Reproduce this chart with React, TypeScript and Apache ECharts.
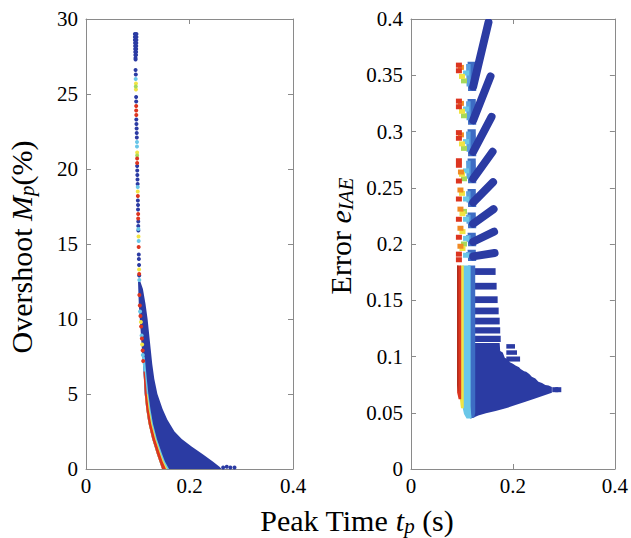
import { useEffect, useRef } from 'react';
import * as echarts from 'echarts';

const FONT = 'Liberation Serif';
const GRAY = '#8a8a8a';
const C_BLUE = '#2b3ba3';
const C_MID = '#3d6cc4';
const C_LIGHT = '#5a9fe0';
const C_CYAN = '#69c6e8';
const C_GREEN = '#a6d95c';
const C_YELLOW = '#f1e444';
const C_ORANGE = '#f08a24';
const C_RED = '#dc3520';
const C_DRED = '#a82818';

// ---------- axes ----------
const xTickStep = 0.2;
const xRange = [0, 0.4];
const leftYRange = [0, 30];
const leftYStep = 5;
const rightYRange = [0, 0.4];
const rightYStep = 0.05;

// ---------- left panel: (peak time tp, overshoot Mp) ----------
const leftStripBlue: number[][] = [
  [0.0945, 29.0], [0.0975, 29.0], [0.0945, 28.8], [0.0975, 28.8], [0.0945, 28.6], [0.0974, 28.6],
  [0.0948, 28.4], [0.0972, 28.4], [0.0949, 28.2], [0.0971, 28.2], [0.095, 28.0], [0.097, 28.0],
  [0.0952, 27.8], [0.0968, 27.8], [0.0954, 27.6], [0.0966, 27.6], [0.0956, 27.4], [0.0958, 27.3],
  [0.0958, 26.6], [0.0962, 26.3], [0.0968, 24.8], [0.097, 24.5], [0.0972, 23.3], [0.0975, 23.0],
  [0.0978, 22.7], [0.098, 22.4], [0.0982, 22.1], [0.0988, 20.2], [0.099, 19.9], [0.0992, 19.6],
  [0.0995, 19.3], [0.0998, 19.0], [0.1002, 17.9], [0.1005, 17.6], [0.1005, 17.3], [0.101, 16.5],
  [0.101, 16.2], [0.1012, 15.9], [0.102, 14.3], [0.1022, 14.0], [0.1025, 13.6], [0.1028, 12.9],
];
const leftStripCyan: number[][] = [
  [0.096, 26.0], [0.0985, 21.8], [0.0985, 21.5], [0.1, 18.8], [0.1012, 16.0], [0.1018, 15.2], [0.103, 12.6],
  [0.1045, 10.5], [0.1075, 8.9], [0.1098, 7.6],
];
const leftStripYellow: number[][] = [
  [0.0965, 25.7], [0.0965, 25.3], [0.0988, 21.1], [0.1, 18.5], [0.1015, 15.5], [0.1025, 13.3],
  [0.106, 9.8], [0.1085, 8.3],
];
const leftStripGreen: number[][] = [[0.0962, 25.5], [0.0988, 20.9]];
const leftStripRed: number[][] = [
  [0.097, 24.2], [0.097, 23.9], [0.0972, 23.6], [0.0988, 20.7], [0.0988, 20.4], [0.1002, 18.2],
  [0.1008, 17.0], [0.1008, 16.7], [0.1018, 14.8], [0.1028, 13.0],
  [0.1032, 11.6], [0.104, 10.9], [0.1052, 10.2], [0.1065, 9.5], [0.108, 8.7], [0.1095, 7.9], [0.1105, 7.2],
];
const leftTail: number[][] = [[0.265, 0.1], [0.272, 0.15], [0.279, 0.1], [0.287, 0.1]];

// dense front bands: rows [Mp, tp left, tp right]
const leftBlueBand: number[][] = [
  [12.5, 0.1005, 0.105], [12, 0.101, 0.11], [11, 0.102, 0.115], [10, 0.104, 0.119], [9, 0.106, 0.122],
  [8, 0.108, 0.125], [7, 0.110, 0.128], [6, 0.112, 0.132], [5, 0.1135, 0.138], [4, 0.1165, 0.148],
  [3.3, 0.1195, 0.157], [2.5, 0.1245, 0.171], [2, 0.128, 0.185], [1.5, 0.1325, 0.204], [1, 0.137, 0.225],
  [0.5, 0.142, 0.245], [0.15, 0.1455, 0.258], [0, 0.147, 0.262],
];
const leftCyanBand: number[][] = [
  [7.5, 0.109, 0.1135], [6, 0.112, 0.1175], [5, 0.1135, 0.1205], [4, 0.1165, 0.1245], [3, 0.121, 0.1295],
  [2, 0.128, 0.137], [1, 0.137, 0.147], [0.5, 0.142, 0.1525], [0, 0.147, 0.1605],
];
const leftYellowBand: number[][] = [
  [5, 0.1135, 0.119], [4, 0.1165, 0.1225], [3, 0.121, 0.1275], [2, 0.128, 0.135], [1, 0.137, 0.1445],
  [0.5, 0.142, 0.150], [0, 0.147, 0.157],
];
const leftRedBand: number[][] = [
  [6.5, 0.111, 0.1135], [5, 0.1135, 0.1175], [4, 0.1165, 0.121], [3, 0.121, 0.126], [2, 0.128, 0.1335],
  [1, 0.137, 0.143], [0.5, 0.142, 0.148], [0, 0.147, 0.1545],
];

// ---------- right panel: (peak time tp, error eIAE) ----------
const rightDenseOutline: number[][] = [
  [0.113, 0.112], [0.174, 0.112], [0.175, 0.105], [0.180, 0.1035], [0.184, 0.099], [0.19, 0.0975],
  [0.194, 0.095], [0.2, 0.0935], [0.205, 0.092], [0.212, 0.0905], [0.215, 0.089], [0.222, 0.087],
  [0.226, 0.0865], [0.232, 0.0845], [0.237, 0.082], [0.244, 0.0805], [0.25, 0.0776], [0.257, 0.0765],
  [0.2635, 0.0747], [0.27, 0.0742], [0.2764, 0.073], [0.2764, 0.0678], [0.2635, 0.0658], [0.245, 0.063],
  [0.2246, 0.0598], [0.205, 0.0568], [0.186, 0.054], [0.166, 0.0515], [0.147, 0.0495], [0.132, 0.0475],
  [0.122, 0.0455], [0.117, 0.0448], [0.113, 0.046],
];
// horizontal stripes: [e bottom, e top, tp right]
const rightStripes: number[][] = [
  [0.113, 0.1185, 0.176], [0.1205, 0.126, 0.175], [0.1285, 0.1345, 0.174], [0.1375, 0.1435, 0.172],
  [0.1475, 0.1535, 0.170], [0.1595, 0.1655, 0.168], [0.1725, 0.1785, 0.166],
];
// detached blocks: [tp0, tp1, e0, e1]
const rightBlocks: number[][] = [
  [0.187, 0.214, 0.0955, 0.1], [0.187, 0.208, 0.1015, 0.1055], [0.187, 0.204, 0.107, 0.111],
];
const rightTail: number[][] = [[0.283, 0.0705], [0.289, 0.0705]];
// continuous left column bands: rows [e, tp left, tp right]
const rightColMid: number[][] = [[0.181, 0.112, 0.126], [0.05, 0.112, 0.126], [0.0455, 0.114, 0.124]];
const rightColCyan: number[][] = [[0.181, 0.1005, 0.117], [0.056, 0.1005, 0.117], [0.049, 0.104, 0.118], [0.0448, 0.109, 0.119]];
const rightColYellow: number[][] = [[0.181, 0.096, 0.1035], [0.062, 0.096, 0.1035], [0.054, 0.098, 0.1035]];
const rightColRed: number[][] = [[0.181, 0.0905, 0.0985], [0.068, 0.0905, 0.0985], [0.062, 0.0935, 0.0985]];
const rightColDarkRed: number[][] = [[0.181, 0.0905, 0.093], [0.075, 0.0905, 0.093], [0.069, 0.092, 0.093]];
// chevrons
const chevronBase = [0.336, 0.306, 0.278, 0.254, 0.233, 0.214, 0.198, 0.185];
const chevronTop = [0.362, 0.329, 0.302, 0.276, 0.249, 0.228, 0.210, 0.195];
const chevronTipX = [0.152, 0.156, 0.158, 0.160, 0.161, 0.162, 0.163, 0.164];
const chevronTipY = [0.397, 0.349, 0.313, 0.282, 0.255, 0.231, 0.211, 0.192];
const chevronStartX = 0.122;
// discrete squares of the left column
const rightSqRed: number[][] = [
  [0.094, 0.359], [0.094, 0.354], [0.094, 0.327], [0.094, 0.322], [0.094, 0.299], [0.094, 0.294],
  [0.094, 0.274], [0.094, 0.27], [0.094, 0.256], [0.094, 0.24], [0.094, 0.222], [0.094, 0.206],
  [0.094, 0.191], [0.094, 0.186],
];
const rightSqOrange: number[][] = [
  [0.098, 0.357], [0.098, 0.325], [0.098, 0.297], [0.098, 0.264], [0.097, 0.248], [0.097, 0.231],
  [0.097, 0.214], [0.097, 0.198],
];
const rightSqYellow: number[][] = [
  [0.1, 0.349], [0.1, 0.318], [0.1, 0.289], [0.1, 0.262], [0.1, 0.245], [0.101, 0.227], [0.101, 0.211], [0.101, 0.196],
];
const rightSqGreen: number[][] = [[0.104, 0.345], [0.104, 0.314], [0.104, 0.285], [0.104, 0.258], [0.104, 0.229], [0.104, 0.2]];
const rightSqCyan: number[][] = [
  [0.108, 0.352], [0.108, 0.32], [0.108, 0.291], [0.108, 0.265], [0.108, 0.24], [0.108, 0.222], [0.108, 0.205], [0.108, 0.19],
];

// ---------- titles ----------
type Part = { text: string; italic?: boolean; sub?: boolean };
const leftTitle: Part[] = [{ text: 'Overshoot ' }, { text: 'M', italic: true }, { text: 'p', italic: true, sub: true }, { text: '(%)' }];
const rightTitle: Part[] = [{ text: 'Error ' }, { text: 'e', italic: true }, { text: 'IAE', italic: true, sub: true }];
const xTitle: Part[] = [{ text: 'Peak Time ' }, { text: 't', italic: true }, { text: 'p', italic: true, sub: true }, { text: ' (s)' }];

type Shape = { pts: number[][]; color: string };

function band(rows: number[][], color: string): Shape {
  const l = rows.map((r) => [r[1], r[0]]);
  const r = rows.slice().reverse().map((q) => [q[2], q[0]]);
  return { pts: l.concat(r), color };
}

function polySeries(shapes: Shape[], xi: number, yi: number) {
  return {
    type: 'custom',
    xAxisIndex: xi,
    yAxisIndex: yi,
    silent: true,
    clip: true,
    data: shapes.map((s, i) => [s.pts[0][0], s.pts[0][1], i]),
    renderItem: (params: any, api: any) => {
      const s = shapes[params.dataIndex];
      return { type: 'polygon', shape: { points: s.pts.map((p) => api.coord(p)) }, style: { fill: s.color } };
    },
  };
}

function scatter(data: number[][], color: string, xi: number, yi: number, symbol = 'circle', size: any = 5) {
  return { type: 'scatter', xAxisIndex: xi, yAxisIndex: yi, data, symbol, symbolSize: size, silent: true, itemStyle: { color, opacity: 1 } };
}

function mathText(parts: Part[], cx: number, cy: number, rotate: boolean, size: number) {
  const subSize = Math.round(size * 0.7);
  const ctx = document.createElement('canvas').getContext('2d');
  const widths = parts.map((p) => {
    const fs = p.sub ? subSize : size;
    if (!ctx) return p.text.length * fs * 0.5;
    ctx.font = `${p.italic ? 'italic ' : ''}${fs}px "${FONT}"`;
    return ctx.measureText(p.text).width;
  });
  const total = widths.reduce((a, b) => a + b, 0);
  let x = -total / 2;
  const children = parts.map((p, i) => {
    const fs = p.sub ? subSize : size;
    const el = {
      type: 'text',
      x,
      y: p.sub ? size * 0.2 : 0,
      style: {
        text: p.text,
        fontSize: fs,
        fontFamily: FONT,
        fontStyle: p.italic ? 'italic' : 'normal',
        fill: '#000',
        textAlign: 'left',
        textVerticalAlign: 'middle',
      },
    };
    x += widths[i];
    return el;
  });
  return { type: 'group', x: cx, y: cy, rotation: rotate ? Math.PI / 2 : 0, children };
}

const fmt = (v: number) => String(+v.toFixed(2));

function xAx(grid: number, pos: 'bottom' | 'top') {
  return {
    type: 'value', gridIndex: grid, position: pos, min: xRange[0], max: xRange[1], interval: xTickStep,
    axisLine: { show: true, onZero: false, lineStyle: { color: GRAY, width: 1 } },
    axisTick: { show: true, inside: true, length: 5, lineStyle: { color: GRAY } },
    axisLabel: { show: pos === 'bottom', fontSize: 21, fontFamily: FONT, color: '#000', margin: 6, formatter: fmt },
    splitLine: { show: false },
  };
}
function yAx(grid: number, pos: 'left' | 'right', range: number[], step: number) {
  return {
    type: 'value', gridIndex: grid, position: pos, min: range[0], max: range[1], interval: step,
    axisLine: { show: true, onZero: false, lineStyle: { color: GRAY, width: 1 } },
    axisTick: { show: true, inside: true, length: 5, lineStyle: { color: GRAY } },
    axisLabel: { show: pos === 'left', fontSize: 21, fontFamily: FONT, color: '#000', margin: 8, formatter: fmt },
    splitLine: { show: false },
  };
}

export default function App() {
  const ref = useRef<HTMLDivElement>(null);
  useEffect(() => {
    if (!ref.current) return;
    document.body.style.margin = '0';
    const chart = echarts.init(ref.current, undefined, { renderer: 'svg' });

    const leftShapes: Shape[] = [
      band(leftBlueBand, C_BLUE),
      band(leftCyanBand, C_CYAN),
      band(leftYellowBand, C_YELLOW),
      band(leftRedBand, C_RED),
    ];

    const rightShapes: Shape[] = [{ pts: rightDenseOutline, color: C_BLUE }];
    rightStripes.forEach((s) => {
      rightShapes.push({ pts: [[0.113, s[1]], [s[2], s[1]], [s[2], s[0]], [0.113, s[0]]], color: C_BLUE });
    });
    rightBlocks.forEach((b) => {
      rightShapes.push({ pts: [[b[0], b[3]], [b[1], b[3]], [b[1], b[2]], [b[0], b[2]]], color: C_BLUE });
    });
    chevronBase.forEach((b, i) => {
      const t = chevronTop[i];
      rightShapes.push({ pts: [[0.111, t], [0.127, t], [0.128, b], [0.112, b]], color: C_MID });
      rightShapes.push({ pts: [[0.108, t - 0.002], [0.117, t - 0.002], [0.117, b + 0.004], [0.109, b + 0.004]], color: C_LIGHT });
    });
    rightShapes.push(band(rightColMid, C_MID));
    rightShapes.push(band(rightColCyan, C_CYAN));
    rightShapes.push(band(rightColYellow, C_YELLOW));
    rightShapes.push(band(rightColRed, C_RED));
    rightShapes.push(band(rightColDarkRed, C_DRED));

    const armSeries = {
      type: 'custom',
      xAxisIndex: 2,
      yAxisIndex: 2,
      silent: true,
      clip: true,
      data: chevronBase.map((b, i) => [chevronTipX[i], chevronTipY[i], b]),
      renderItem: (params: any, api: any) => {
        const i = params.dataIndex;
        const a = api.coord([chevronStartX, chevronBase[i] + 0.004]);
        const c = api.coord([chevronTipX[i], chevronTipY[i]]);
        return {
          type: 'line',
          shape: { x1: a[0], y1: a[1], x2: c[0], y2: c[1] },
          style: { stroke: C_BLUE, lineWidth: 8, lineCap: 'round' },
        };
      },
    };

    const sq: any = [6, 5];
    chart.setOption({
      animation: false,
      grid: [
        { left: 86, top: 19, width: 207, height: 450 },
        { left: 411, top: 19, width: 206, height: 450 },
      ],
      xAxis: [xAx(0, 'bottom'), xAx(0, 'top'), xAx(1, 'bottom'), xAx(1, 'top')],
      yAxis: [
        yAx(0, 'left', leftYRange, leftYStep),
        yAx(0, 'right', leftYRange, leftYStep),
        yAx(1, 'left', rightYRange, rightYStep),
        yAx(1, 'right', rightYRange, rightYStep),
      ],
      series: [
        polySeries(leftShapes, 0, 0),
        scatter(leftStripBlue, C_BLUE, 0, 0, 'circle', 4),
        scatter(leftStripCyan, C_CYAN, 0, 0, 'circle', 4),
        scatter(leftStripYellow, C_YELLOW, 0, 0, 'circle', 4),
        scatter(leftStripGreen, C_GREEN, 0, 0, 'circle', 4),
        scatter(leftStripRed, C_RED, 0, 0, 'circle', 4),
        scatter(leftTail, C_BLUE, 0, 0, 'circle', 4),
        polySeries(rightShapes, 2, 2),
        armSeries,
        scatter(rightTail, C_BLUE, 2, 2, 'rect', sq),
        scatter(rightSqCyan, C_CYAN, 2, 2, 'rect', sq),
        scatter(rightSqGreen, C_GREEN, 2, 2, 'rect', sq),
        scatter(rightSqYellow, C_YELLOW, 2, 2, 'rect', sq),
        scatter(rightSqOrange, C_ORANGE, 2, 2, 'rect', sq),
        scatter(rightSqRed, C_RED, 2, 2, 'rect', sq),
      ],
      graphic: [
        mathText(leftTitle, 21, 247, true, 30),
        mathText(rightTitle, 340, 236, true, 30),
        mathText(xTitle, 357, 520, false, 30),
      ],
    });
    return () => chart.dispose();
  }, []);
  return <div ref={ref} style={{ width: 631, height: 538 }} />;
}
